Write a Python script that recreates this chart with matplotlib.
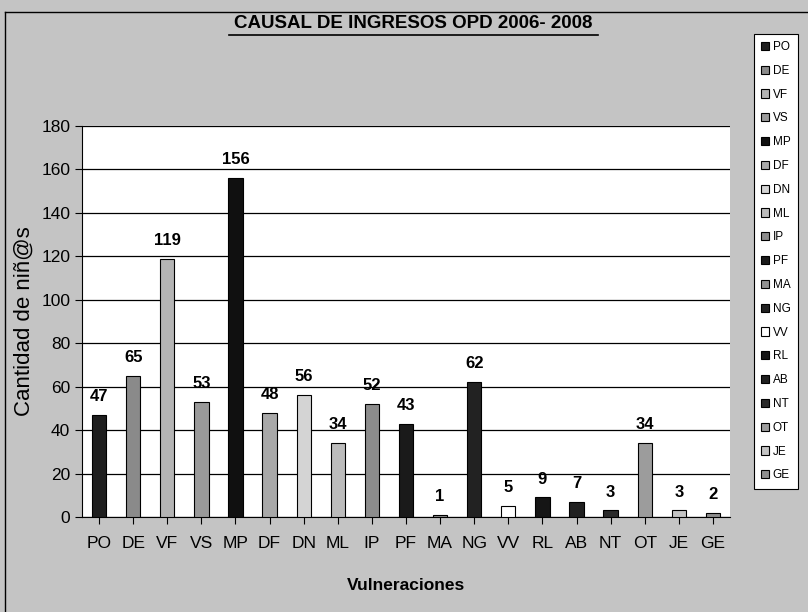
import matplotlib.pyplot as plt
import numpy as np

categorias = ['PO', 'DE', 'VF', 'VS', 'MP', 'DF', 'DN', 'ML', 'IP', 'PF',
              'MA', 'NG', 'VV', 'RL', 'AB', 'NT', 'OT', 'JE', 'GE']
valores = [47, 65, 119, 53, 156, 48, 56, 34, 52, 43, 1, 62, 5, 9, 7, 3, 34, 3, 2]
colores = ['#1e1e1e', '#8a8a8a', '#b4b4b4', '#9a9a9a', '#101010', '#a8a8a8',
           '#d4d4d4', '#bcbcbc', '#8c8c8c', '#1a1a1a', '#909090', '#222222',
           '#ffffff', '#151515', '#202020', '#2a2a2a', '#9c9c9c', '#c4c4c4', '#8e8e8e']

plt.rcParams['font.family'] = ['Liberation Sans', 'DejaVu Sans']

fig = plt.figure(figsize=(8.08, 6.12), dpi=100, facecolor='#c4c4c4')
ax = fig.add_axes([82 / 808, 1 - 517 / 612, (730 - 82) / 808, (517 - 126) / 612])
ax.set_facecolor('white')

x = np.arange(len(categorias))
ax.bar(x, valores, width=0.42, color=colores, edgecolor='black', linewidth=0.8, zorder=3)
for xi, v in zip(x, valores):
    ax.text(xi, v + 5, str(v), ha='center', va='bottom', fontsize=12, fontweight='bold')

ax.set_ylim(0, 180)
ax.set_xlim(-0.5, len(categorias) - 0.5)
ax.set_yticks(range(0, 181, 20))
ax.yaxis.grid(True, color='black', linewidth=0.9, zorder=0)
ax.set_xticks(x)
ax.set_xticklabels(categorias)
ax.tick_params(axis='both', labelsize=12.5, direction='out', length=5)
ax.tick_params(axis='x', pad=9)
for s in ['top', 'right']:
    ax.spines[s].set_visible(False)

ax.set_xlabel('Vulneraciones', fontsize=12.5, fontweight='bold', labelpad=19)
ax.set_ylabel('Cantidad de niñ@s', fontsize=16, labelpad=5)

fig.text(413 / 808, 1 - 23 / 612, 'CAUSAL DE INGRESOS OPD 2006- 2008', ha='center', va='center',
         fontsize=13.5, fontweight='bold')
fig.add_artist(plt.Line2D([229 / 808, 598 / 808], [1 - 35 / 612, 1 - 35 / 612], color='black', linewidth=1.2))

# marco del grafico
fig.add_artist(plt.Line2D([5 / 808, 808 / 808], [1 - 12 / 612, 1 - 12 / 612], color='black', linewidth=1))
fig.add_artist(plt.Line2D([5 / 808, 5 / 808], [1 - 12 / 612, 0], color='black', linewidth=1))

handles = [plt.Rectangle((0, 0), 1, 1, facecolor=c, edgecolor='black', linewidth=0.8) for c in colores]
leg = fig.legend(handles, categorias, loc='upper left', bbox_to_anchor=(748 / 808, 1 - 28 / 612),
                 fontsize=8.5, handlelength=0.7, handleheight=0.7, handletextpad=0.3,
                 labelspacing=1.0, borderpad=0.6, frameon=True, fancybox=False,
                 edgecolor='black', framealpha=1)
leg.get_frame().set_linewidth(0.8)

plt.savefig('out.png', dpi=100, facecolor=fig.get_facecolor())
